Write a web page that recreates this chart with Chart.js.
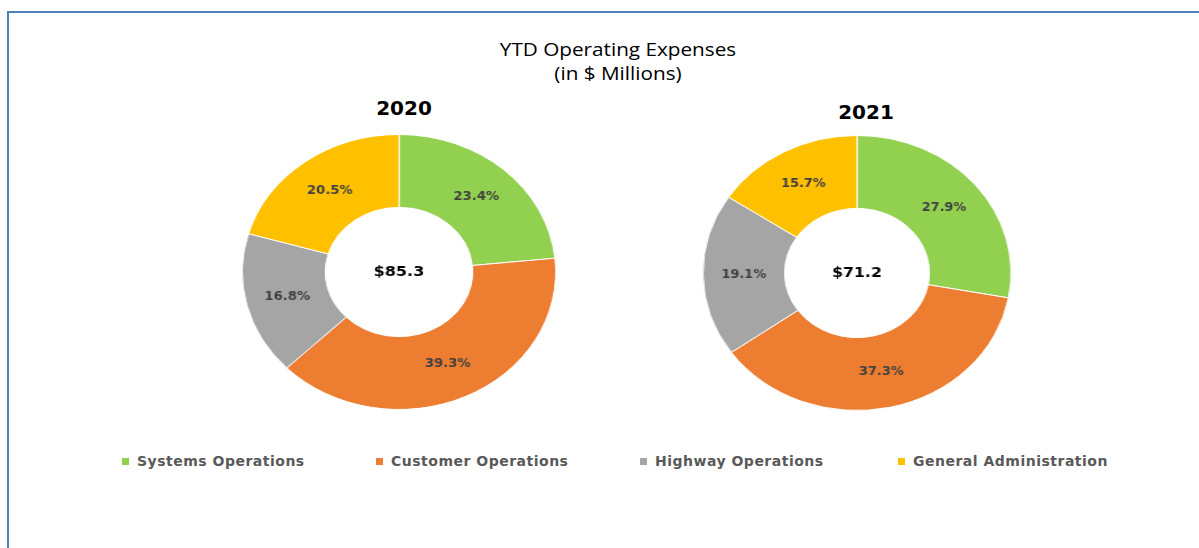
<!DOCTYPE html>
<html>
<head>
<meta charset="utf-8">
<script src="https://cdn.jsdelivr.net/npm/chart.js"></script>
<style>
  html, body { margin: 0; padding: 0; background: #fff; }
  body { width: 1199px; height: 548px; position: relative; overflow: hidden; font-family: "DejaVu Sans", sans-serif; }
  #frame { position: absolute; left: 7px; top: 11px; right: -10px; bottom: -10px;
           border-top: 2px solid #4f81bd; border-left: 2px solid #4f81bd; }
  #title { position: absolute; left: 400px; width: 436px; top: 37px; height: 46px; overflow: hidden;
           text-align: center; font-family: "Open Sans", sans-serif; font-size: 18px; line-height: 24px; color: #000;
           transform: scaleX(1.15); }
  .year { position: absolute; width: 120px; text-align: center; font-weight: bold; font-size: 20px; color: #000; }
  .pie { position: absolute; width: 276px; height: 276px; }
  .leg { position: absolute; top: 452px; height: 18px; white-space: nowrap; font-weight: bold; font-size: 14px;
         letter-spacing: 0.5px; color: #595959; line-height: 18px; }
  .leg i { display: inline-block; width: 7px; height: 7px; margin-right: 8px; vertical-align: 1px; }
</style>
</head>
<body>
<div id="frame"></div>
<div id="title">YTD Operating Expenses<br>(in $ Millions)</div>

<script>
// 数据
const categories = ['Systems Operations', 'Customer Operations', 'Highway Operations', 'General Administration'];
const colors = ['#92D050', '#ED7D31', '#A5A5A5', '#FFC000'];
const years = ['2020', '2021'];
const share2020 = [23.4, 39.3, 16.8, 20.5];
const share2021 = [27.9, 37.3, 19.1, 15.7];
const totals = ['$85.3', '$71.2'];

// 每个圆环的位置（中心点、横向拉伸）
const pies = [
  { year: years[0], data: share2020, total: totals[0], cx: 399, cy: 272, sx: 1.14, yearX: 404, yearY: 96 },
  { year: years[1], data: share2021, total: totals[1], cx: 857, cy: 273, sx: 1.12, yearX: 866, yearY: 100 }
];

// 百分比标签和中心总额
const labelPlugin = {
  id: 'labels',
  afterDatasetsDraw(chart) {
    const ctx = chart.ctx;
    const meta = chart.getDatasetMeta(0);
    const values = chart.data.datasets[0].data;
    ctx.save();
    ctx.textAlign = 'center';
    ctx.textBaseline = 'middle';
    ctx.fillStyle = '#404040';
    ctx.font = 'bold 11.5px "DejaVu Sans"';
    meta.data.forEach((arc, k) => {
      let p = arc.tooltipPosition();
      ctx.fillText(values[k].toFixed(1) + '%', p.x, p.y);
    });
    let c = meta.data[0];
    ctx.fillStyle = '#000';
    ctx.font = 'bold 14px "DejaVu Sans"';
    ctx.fillText(chart.options.plugins.labels.total, c.x, c.y);
    ctx.restore();
  }
};

pies.forEach(p => {
  let y = document.createElement('div');
  y.className = 'year';
  y.textContent = p.year;
  y.style.left = (p.yearX - 60) + 'px';
  y.style.top = p.yearY + 'px';
  document.body.appendChild(y);

  let box = document.createElement('div');
  box.className = 'pie';
  box.style.left = (p.cx - 138) + 'px';
  box.style.top = (p.cy - 138) + 'px';
  box.style.transform = 'scaleX(' + p.sx + ')';
  document.body.appendChild(box);
  let canvas = document.createElement('canvas');
  box.appendChild(canvas);

  new Chart(canvas.getContext('2d'), {
    type: 'doughnut',
    data: {
      labels: categories,
      datasets: [{
        data: p.data,
        backgroundColor: colors,
        borderColor: '#ffffff',
        borderWidth: 1
      }]
    },
    options: {
      responsive: true,
      maintainAspectRatio: false,
      animation: false,
      cutout: '47%',
      layout: { padding: 0 },
      plugins: {
        legend: { display: false },
        tooltip: { enabled: false },
        labels: { total: p.total }
      }
    },
    plugins: [labelPlugin]
  });
});

// 图例
const legendX = [122, 376, 640, 898];
categories.forEach((name, k) => {
  let item = document.createElement('div');
  item.className = 'leg';
  item.style.left = legendX[k] + 'px';
  item.innerHTML = '<i style="background:' + colors[k] + '"></i>' + name;
  document.body.appendChild(item);
});
</script>
</body>
</html>
